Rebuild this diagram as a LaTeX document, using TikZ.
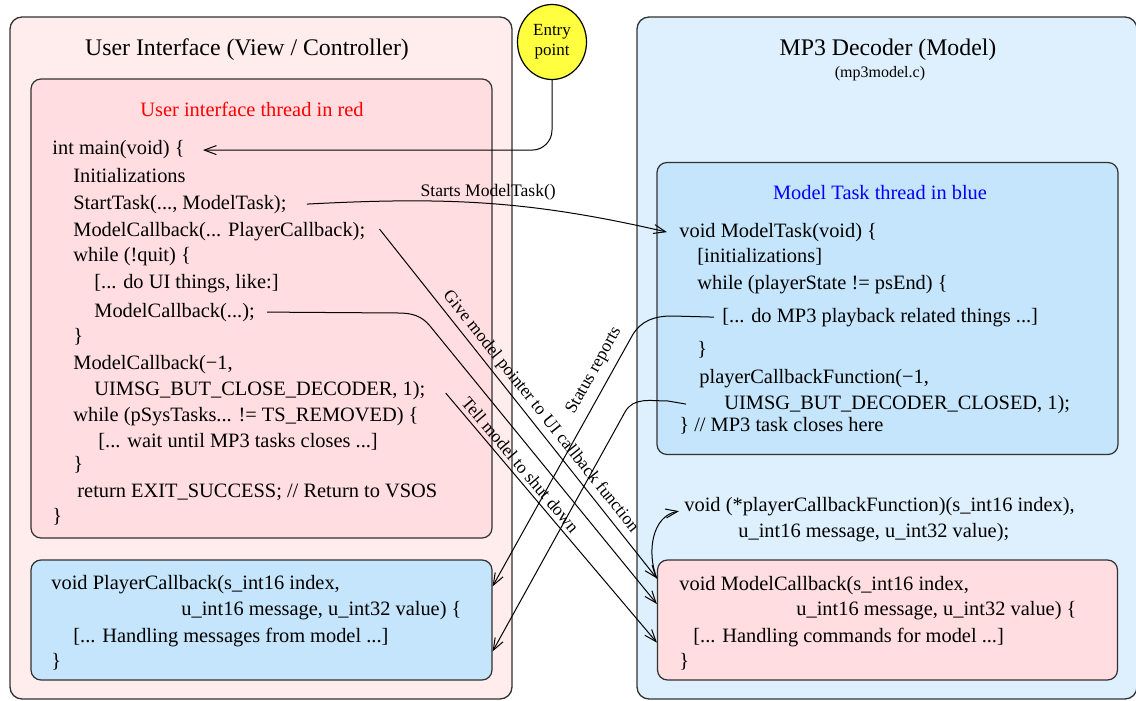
\documentclass[tikz,border=0pt]{standalone}
\usepackage{fontspec}
\setmainfont{Liberation Serif}
\usetikzlibrary{arrows.meta,shapes.geometric,calc}
\definecolor{uiouter}{RGB}{255,236,236}
\definecolor{redbox}{RGB}{255,221,224}
\definecolor{modelouter}{RGB}{222,240,253}
\definecolor{bluebox}{RGB}{196,229,251}
\definecolor{entryyellow}{RGB}{255,255,64}
\definecolor{boxline}{RGB}{50,50,50}
\begin{document}
\begin{tikzpicture}[x=0.5pt,y=-0.5pt,
  outerbox/.style={draw=boxline,line width=0.65pt,rounded corners=6pt,inner sep=0pt},
  innerbox/.style={draw=boxline,line width=0.6pt,rounded corners=5pt,inner sep=0pt},
  code/.style={anchor=base west,inner sep=0pt,font=\fontsize{10.2}{12}\selectfont},
  title/.style={inner sep=0pt,font=\fontsize{11.9}{14}\selectfont},
  lbl/.style={inner sep=2pt,font=\fontsize{8.8}{10}\selectfont},
  arr/.style={line width=0.5pt,-{Straight Barb[length=6pt,width=4.5pt,line width=0.5pt]}},
  conn/.style={line width=0.5pt}]
\useasboundingbox (0,0) rectangle (1136,701);
% outer boxes
\node[outerbox,fill=uiouter,minimum width=251pt,minimum height=341pt] (ui) at (261,358) {};
\node[outerbox,fill=modelouter,minimum width=250pt,minimum height=341pt] (model) at (887,358) {};
% inner boxes
\node[innerbox,fill=redbox,minimum width=230.5pt,minimum height=229.5pt] (uithread) at (261.5,308.5) {};
\node[innerbox,fill=bluebox,minimum width=230.5pt,minimum height=60pt] (pcb) at (261.5,620) {};
\node[innerbox,fill=bluebox,minimum width=230.5pt,minimum height=146pt] (mtask) at (887.5,308.5) {};
\node[innerbox,fill=redbox,minimum width=230pt,minimum height=60pt] (mcb) at (887.5,620) {};
% entry
\node[ellipse,draw=black,line width=0.6pt,fill=entryyellow,minimum width=34.5pt,minimum height=37.5pt,inner sep=0pt,align=center,font=\fontsize{8.5}{10}\selectfont] (entry) at (552,42) {Entry\\point};
% titles
\node[title] (uititle) at (247,50) {User Interface (View / Controller)};
\node[title] (mtitle) at (888,50) {MP3 Decoder (Model)};
\node[inner sep=0pt,font=\fontsize{8}{10}\selectfont] (mfile) at (880,74) {(mp3model.c)};
\node[inner sep=0pt,text=red,font=\fontsize{10.2}{12}\selectfont] (uithr) at (252,109) {User interface thread in red};
\node[inner sep=0pt,text=blue,font=\fontsize{10.2}{12}\selectfont] (mthr) at (880,193) {Model Task thread in blue};
% UI code
\node[code] (main) at (52,155) {int main(void) \{};
\node[code] (init) at (73,183) {Initializations};
\node[code] (starttask) at (73,209) {StartTask(..., ModelTask);};
\node[code] (mcbpc) at (73,236) {ModelCallback(... PlayerCallback);};
\node[code] (whilequit) at (73,262) {while (!quit) \{};
\node[code] (douithings) at (94,288) {[... do UI things, like:]};
\node[code] (mcbloop) at (94,317) {ModelCallback(...);};
\node[code] (close1) at (73,342) {\}};
\node[code] (mcbm1) at (73,369) {ModelCallback(−1,};
\node[code] (uimsg) at (94,395) {UIMSG\_BUT\_CLOSE\_DECODER, 1);};
\node[code] (whilesys) at (73,421) {while (pSysTasks... != TS\_REMOVED) \{};
\node[code] (waitmp3) at (98,447) {[... wait until MP3 tasks closes ...]};
\node[code] (close2) at (73,470) {\}};
\node[code] (retexit) at (77,497) {return EXIT\_SUCCESS; // Return to VSOS};
\node[code] (close3) at (52,522) {\}};
% PlayerCallback code
\node[code] (pcb1) at (51,589) {void PlayerCallback(s\_int16 index,};
\node[code] (pcb2) at (181,615) {u\_int16 message, u\_int32 value) \{};
\node[code] (pcb3) at (73,642) {[... Handling messages from model ...]};
\node[code] (pcb4) at (51,667) {\}};
% Model task code
\node[code] (mt1) at (679,237) {void ModelTask(void) \{};
\node[code] (mt2) at (697,263) {[initializations]};
\node[code] (mt3) at (697,289) {while (playerState != psEnd) \{};
\node[code] (mp3things) at (722,322) {[... do MP3 playback related things ...]};
\node[code] (mt5) at (697,355) {\}};
\node[code] (mt6) at (699,383) {playerCallbackFunction(−1,};
\node[code] (uimsgclosed) at (724,409) {UIMSG\_BUT\_DECODER\_CLOSED, 1);};
\node[code] (mt8) at (679,431) {\} // MP3 task closes here};
% function pointer declaration
\node[code] (fp1) at (684,511) {void (*playerCallbackFunction)(s\_int16 index),};
\node[code] (fp2) at (738,537) {u\_int16 message, u\_int32 value);};
% ModelCallback code
\node[code] (mcb1) at (679,590) {void ModelCallback(s\_int16 index,};
\node[code] (mcb2) at (796,615) {u\_int16 message, u\_int32 value) \{};
\node[code] (mcb3) at (693,642) {[... Handling commands for model ...]};
\node[code] (mcb4) at (679,667) {\}};
% connectors
\draw[arr,rounded corners=10pt] (entry.south) |- ($(main.east)+(18,0)$);
\draw[arr] ($(starttask.east)+(20,0)$) to[out=3,in=167]
  node[lbl,pos=0.5,above,yshift=-0.5pt] (lblstart) {Starts ModelTask()} ($(mt1.west)+(-12,0)$);
\draw[arr] ($(mcbpc.east)+(14,-2)$) --
  node[lbl,sloped,above,pos=0.545] (lblgive) {Give model pointer to UI callback function} ($(mcb.north west)+(0,19)$);
\draw[arr] ($(mcbloop.east)+(12,0)$) -- (398,313) to[out=0,in=129] (430,326) -- ($(mcb.west)+(0,-16)$);
\draw[arr] ($(uimsg.east)+(20,3)$) --
  node[lbl,sloped,above,pos=0.315] (lbltell) {Tell model to shut down} ($(mcb.south west)+(0,-38)$);
\draw[arr] ($(mp3things.west)+(-8,0)$) -- (672,316) to[out=180,in=61] (632,336) --
  node[lbl,sloped,above=2pt,pos=0.17] (lblstatus) {Status reports} ($(pcb.north east)+(0,27)$);
\draw[arr] ($(uimsgclosed.west)+(-38,0)$) -- (668,401) to[out=180,in=61] (625,412) -- ($(pcb.north east)+(0,92)$);
\draw[arr] ($(mcb.north west)+(0,19)$) to[out=112,in=190] ($(fp1.west)+(-5,5)$);
\end{tikzpicture}
\end{document}
